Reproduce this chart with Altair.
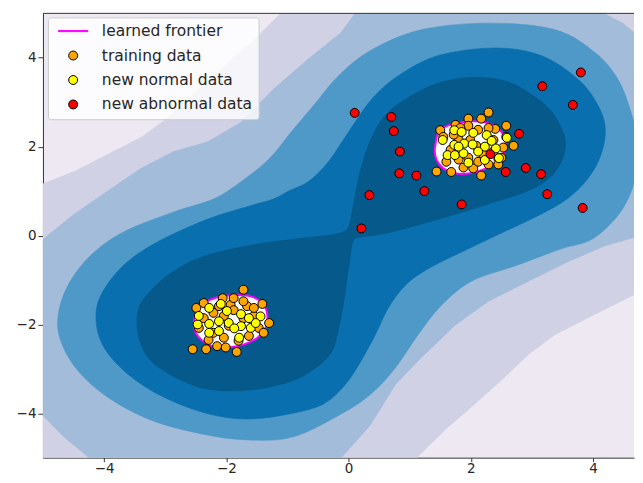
import altair as alt
import pandas as pd

# ---------------- values (data coordinates) ----------------
X_DOMAIN = [-5.0, 4.67]
Y_DOMAIN = [-5.0, 5.0]
TICKS = [-4, -2, 0, 2, 4]

# filled contour bands of the decision function (outer -> inner); background is the lowest band
BG_COLOR = "#eee8f2"
BAND_COLORS = ["#d1d1e6", "#a3bcda", "#4f99c8", "#0a6fae", "#05598b"]

band1 = [(-5.72, 0.70), (-5.39, 0.82), (-5.02, 1.15), (-4.46, 1.46), (-3.92, 1.84), (-3.38, 2.22),
         (-2.94, 2.67), (-2.50, 3.24), (-2.01, 3.85), (-1.58, 4.36), (-1.14, 4.96), (-0.95, 5.27),
         (5.72, 5.50), (5.72, -1.08), (5.07, -1.15), (4.79, -1.25), (4.46, -1.48), (3.92, -1.85),
         (3.38, -2.23), (2.94, -2.68), (2.50, -3.26), (2.01, -3.86), (1.58, -4.37), (1.14, -4.97),
         (0.95, -5.31), (-5.72, -5.42)]

band2 = [(-5.23, -0.41), (-5.03, -0.12), (-4.49, 0.48), (-3.94, 1.00), (-3.40, 1.51), (-2.86, 1.89),
         (-2.30, 2.11), (-1.76, 2.55), (-1.23, 3.29), (-0.67, 3.96), (-0.13, 4.56), (0.11, 5.00),
         (0.33, 5.38), (3.92, 5.38), (4.17, 5.00), (4.49, 4.78), (4.79, 4.43), (5.07, 3.98),
         (5.23, 0.15), (4.79, 0.00), (4.20, -0.23), (3.59, -0.59), (2.94, -1.03), (2.29, -1.48),
         (1.75, -2.01), (1.19, -2.75), (0.77, -3.35), (0.36, -4.26), (0.00, -4.82), (-0.25, -5.20),
         (-0.41, -5.42), (-4.08, -5.42), (-4.22, -5.03), (-4.66, -4.53), (-5.03, -4.01), (-5.23, -3.75)]

band3 = [(2.29, 4.78), (3.38, 4.63), (4.04, 4.11), (4.41, 3.51), (4.62, 2.78), (4.74, 2.04),
         (4.69, 1.28), (4.46, 0.55), (4.00, -0.07), (3.48, -0.30), (2.73, -0.68), (2.01, -1.03),
         (1.52, -1.57), (1.14, -2.23), (0.77, -2.97), (0.38, -3.55), (-0.10, -4.00), (-0.90, -4.53),
         (-1.65, -4.60), (-2.42, -4.46), (-3.24, -4.15), (-3.94, -3.64), (-4.43, -3.04), (-4.71, -2.37),
         (-4.75, -1.79), (-4.59, -1.12), (-4.22, -0.45), (-3.68, 0.08), (-2.86, 0.53), (-2.21, 0.82),
         (-1.76, 1.21), (-1.31, 1.71), (-0.95, 2.31), (-0.57, 2.93), (-0.16, 3.60), (0.38, 4.18),
         (1.19, 4.63)]

band4 = [(-0.98, 1.00), (-0.65, 1.22), (-0.33, 1.66), (0.00, 2.33), (0.38, 3.07), (0.82, 3.60),
         (1.47, 4.05), (2.40, 4.22), (3.15, 4.05), (3.76, 3.51), (4.08, 2.93), (4.20, 2.40),
         (4.13, 1.82), (3.92, 1.29), (3.59, 0.84), (3.15, 0.48), (2.57, 0.10), (1.96, -0.30),
         (1.31, -0.74), (0.93, -1.12), (0.65, -1.63), (0.44, -2.23), (0.21, -2.81), (-0.05, -3.35),
         (-0.41, -3.79), (-0.95, -4.01), (-1.65, -4.13), (-2.30, -4.01), (-3.02, -3.64), (-3.61, -3.12),
         (-4.00, -2.52), (-4.13, -1.92), (-4.05, -1.34), (-3.68, -0.67), (-3.12, -0.14), (-2.30, 0.37),
         (-1.63, 0.66), (-1.23, 0.82)]

band5 = [(-0.02, 0.15), (0.05, 0.48), (0.11, 0.93), (0.20, 1.49), (0.36, 2.15), (0.65, 2.78),
         (1.19, 3.27), (1.63, 3.49), (2.08, 3.56), (2.53, 3.49), (2.86, 3.29), (3.27, 2.87),
         (3.48, 2.42), (3.55, 2.04), (3.46, 1.60), (3.22, 1.22), (2.83, 0.95), (2.29, 0.71),
         (1.75, 0.48), (1.19, 0.26), (0.65, 0.06), (0.25, -0.03), (0.08, -0.12), (0.00, -0.74),
         (-0.07, -1.41), (-0.16, -2.08), (-0.28, -2.63), (-0.57, -3.01), (-0.98, -3.30), (-1.63, -3.48),
         (-2.29, -3.46), (-2.81, -3.21), (-3.24, -2.81), (-3.43, -2.30), (-3.45, -1.74), (-3.30, -1.34),
         (-2.91, -0.85), (-2.37, -0.47), (-1.55, -0.21), (-0.82, -0.07), (-0.25, 0.02)]

# learned frontier (decision function = 0)
frontier_upper = [(1.42, 2.04), (1.47, 2.33), (1.63, 2.48), (1.85, 2.55), (2.07, 2.57), (2.29, 2.52),
                  (2.48, 2.37), (2.57, 2.11), (2.55, 1.89), (2.42, 1.66), (2.23, 1.50), (1.99, 1.40),
                  (1.74, 1.40), (1.55, 1.51), (1.44, 1.70), (1.41, 1.89)]
frontier_lower = [(-2.53, -2.00), (-2.50, -1.74), (-2.36, -1.52), (-2.15, -1.39), (-1.87, -1.34),
                  (-1.60, -1.37), (-1.41, -1.52), (-1.33, -1.78), (-1.36, -2.08), (-1.49, -2.30),
                  (-1.71, -2.45), (-1.98, -2.52), (-2.20, -2.51), (-2.39, -2.37), (-2.50, -2.19)]

training = [(2.29, 2.77), (1.96, 2.63), (2.17, 2.63), (1.50, 2.37), (2.58, 2.47), (2.70, 2.02),
            (1.44, 1.44), (1.68, 1.43), (2.17, 1.35), (1.88, 1.53), (2.04, 1.51), (2.45, 1.73),
            (2.40, 2.40), (1.75, 2.49), (2.58, 2.22), (2.50, 1.75), (1.55, 2.22), (1.67, 1.93),
            (1.80, 1.71), (1.96, 2.47), (2.12, 2.38), (2.29, 2.42), (2.37, 2.15), (2.53, 1.98),
            (1.96, 1.75), (2.12, 1.66), (2.29, 1.60), (1.80, 2.15), (1.60, 1.66), (1.99, 2.15),
            (2.21, 1.82), (2.37, 1.89), (1.83, 2.42), (2.09, 2.02), (2.45, 1.60), (1.72, 2.27),
            (-2.55, -2.56), (-2.33, -2.56), (-1.83, -2.62), (-1.72, -1.22), (-2.49, -1.63), (-1.41, -1.54),
            (-1.30, -1.97), (-1.66, -1.59), (-1.93, -1.56), (-2.06, -1.41), (-2.15, -2.49), (-2.01, -2.52),
            (-2.37, -1.86), (-2.21, -1.74), (-2.04, -1.81), (-1.88, -1.68), (-1.72, -1.86), (-1.55, -1.81),
            (-2.21, -2.19), (-2.04, -2.30), (-1.80, -2.37), (-1.63, -2.26), (-1.96, -2.03), (-1.47, -2.08),
            (-2.29, -2.35), (-2.45, -2.08), (-1.72, -1.48), (-1.88, -1.41), (-2.12, -1.59), (-1.55, -1.63),
            (-1.39, -2.19), (-2.37, -1.52)]

new_normal = [(1.54, 2.15), (1.73, 2.37), (1.85, 2.33), (2.26, 2.26), (1.73, 2.04), (1.89, 2.07),
              (2.03, 2.05), (2.23, 2.00), (2.41, 1.96), (1.62, 1.81), (1.74, 1.81), (1.88, 1.85),
              (2.12, 1.89), (2.46, 1.74), (2.23, 1.70), (2.59, 2.20), (2.04, 2.31), (1.96, 1.64),
              (2.34, 2.13), (1.80, 2.00),
              (-2.28, -1.63), (-2.09, -1.54), (-2.47, -2.00), (-2.28, -1.99), (-2.12, -1.93), (-1.96, -1.97),
              (-1.76, -1.77), (-1.76, -2.04), (-1.60, -2.08), (-1.44, -1.82), (-1.52, -1.97), (-2.28, -2.19),
              (-2.12, -2.15), (-1.87, -2.09), (-1.79, -2.30), (-1.99, -1.70), (-1.63, -1.86), (-2.45, -1.81)]

new_abnormal = [(0.10, 2.76), (0.70, 2.67), (0.74, 2.35), (0.84, 1.89), (0.83, 1.40), (1.11, 1.35),
                (1.24, 1.00), (0.34, 0.91), (0.21, 0.16), (1.85, 0.70), (2.32, 1.83), (2.79, 2.29),
                (2.57, 1.43), (2.90, 1.52), (3.15, 1.38), (3.25, 0.93), (3.83, 0.62), (3.17, 3.36),
                (3.67, 2.94), (3.80, 3.67)]

KINDS = ["learned frontier", "training data", "new normal data", "new abnormal data"]
FILLS = ["#ff00ff", "#ffa500", "#ffff00", "#ff0000"]
STROKES = ["#ff00ff", "#000000", "#000000", "#000000"]
SHAPES = ["M-3.3,-0.12H3.3V0.12H-3.3Z", "circle", "circle", "circle"]

# ---------------- chart ----------------
PLOT_W, PLOT_H = 592, 445
FONT = "DejaVu Sans"
FRAME = "#333333"
xenc = alt.X("x:Q", scale=alt.Scale(domain=X_DOMAIN, nice=False, zero=False),
             axis=alt.Axis(values=TICKS, format="d", title=None, grid=False, domain=True,
                           domainColor=FRAME, domainWidth=1,
                           tickSize=4, tickColor=FRAME, labelFontSize=13.5, labelFont=FONT,
                           labelColor="#262626", labelPadding=0, labelFlush=False))
yenc = alt.Y("y:Q", scale=alt.Scale(domain=Y_DOMAIN, nice=False, zero=False),
             axis=alt.Axis(values=TICKS, format="d", title=None, grid=False, domain=True,
                           domainColor=FRAME, domainWidth=1,
                           tickSize=5, tickColor=FRAME, labelFontSize=13.5, labelFont=FONT,
                           labelColor="#262626", labelPadding=2, minExtent=30, maxExtent=30))


def polygon(pts, color, interp):
    df = pd.DataFrame({"x": [p[0] for p in pts], "y": [p[1] for p in pts], "i": list(range(len(pts)))})
    return alt.Chart(df).mark_line(interpolate=interp, fill=color, stroke=color, strokeWidth=0.6,
                                   clip=True).encode(x=xenc, y=yenc, order="i:Q")


layers = [
    polygon(band1, BAND_COLORS[0], "linear-closed"),
    polygon(band2, BAND_COLORS[1], "linear-closed"),
    polygon(band3, BAND_COLORS[2], "cardinal-closed"),
    polygon(band4, BAND_COLORS[3], "cardinal-closed"),
    polygon(band5, BAND_COLORS[4], "cardinal-closed"),
]

fr_rows = []
for g, pts in enumerate([frontier_upper, frontier_lower]):
    for i, (x, y) in enumerate(pts):
        fr_rows.append({"x": x, "y": y, "i": i, "g": g})
frontier = alt.Chart(pd.DataFrame(fr_rows)).mark_line(
    interpolate="cardinal-closed", fill="white", stroke="#ff00ff", strokeWidth=2, clip=True
).encode(x=xenc, y=yenc, order="i:Q", detail="g:N")
layers.append(frontier)

rows = []
for kind, pts in [("training data", training), ("new normal data", new_normal),
                  ("new abnormal data", new_abnormal)]:
    for x, y in pts:
        rows.append({"x": x, "y": y, "kind": kind})
pts_df = pd.DataFrame(rows)

leg = alt.Legend(title=None, orient="none", legendX=5, legendY=4,
                 fillColor="rgba(255,255,255,0.8)", strokeColor="#cccccc", cornerRadius=3,
                 padding=6, labelFontSize=15.5, labelFont=FONT, labelColor="#262626",
                 symbolSize=80, symbolStrokeWidth=1, symbolOffset=11.5, labelOffset=21,
                 rowPadding=7.5)

scatter = alt.Chart(pts_df).mark_point(filled=True, size=80, opacity=1, strokeWidth=1, clip=True).encode(
    x=xenc, y=yenc,
    fill=alt.Fill("kind:N", scale=alt.Scale(domain=KINDS, range=FILLS), legend=leg),
    stroke=alt.Stroke("kind:N", scale=alt.Scale(domain=KINDS, range=STROKES), legend=leg),
    shape=alt.Shape("kind:N", scale=alt.Scale(domain=KINDS, range=SHAPES), legend=leg),
)
layers.append(scatter)

# top spine of the axes frame (the right spine lies outside the picture)
top_spine = alt.Chart(pd.DataFrame({"y": [Y_DOMAIN[1]]})).mark_rule(
    color=FRAME, strokeWidth=1
).encode(y=yenc, x=alt.value(0), x2=alt.value(PLOT_W))
layers.append(top_spine)

chart = alt.layer(*layers).properties(
    width=PLOT_W, height=PLOT_H,
    padding={"left": 5, "top": 4, "right": 0, "bottom": 0},
).configure_view(stroke=None, fill=BG_COLOR)

chart.save("out.html", embed_options={"renderer": "svg", "actions": False})
